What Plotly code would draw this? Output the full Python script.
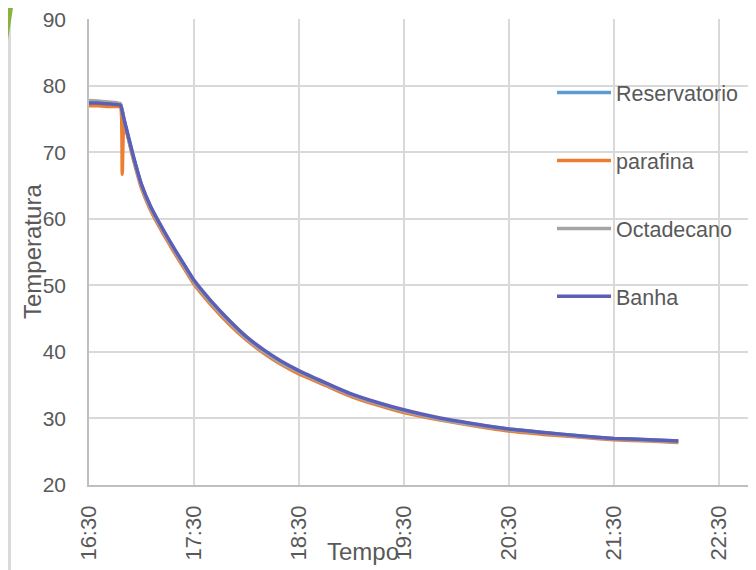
import plotly.graph_objects as go

# ---- data ----
times = ["16:30","16:35","16:40","16:45","16:48","16:50","16:55","17:00","17:05","17:10",
         "17:15","17:20","17:25","17:30","17:40","17:50","18:00","18:10","18:20","18:30",
         "18:45","19:00","19:15","19:30","19:50","20:10","20:30","20:50","21:10","21:30",
         "21:50","22:07"]
reservatorio = [77.5,77.5,77.4,77.3,77.2,75.0,69.7,65.1,61.9,59.4,57.1,54.9,52.8,50.7,47.5,44.7,
                42.2,40.2,38.5,37.1,35.3,33.6,32.3,31.2,30.0,29.1,28.4,27.9,27.4,27.0,26.8,26.6]
octadecano = [77.8,77.7,77.6,77.5,77.3,74.8,69.5,64.9,61.7,59.2,56.9,54.7,52.6,50.5,47.3,44.5,
              42.0,40.0,38.3,37.0,35.2,33.5,32.2,31.1,29.9,29.0,28.3,27.8,27.3,26.9,26.7,26.5]
banha = [77.4,77.4,77.3,77.2,77.1,75.0,69.8,65.2,62.0,59.5,57.2,55.0,52.9,50.8,47.6,44.8,
         42.3,40.3,38.6,37.2,35.4,33.7,32.4,31.3,30.1,29.2,28.4,27.9,27.4,27.0,26.8,26.6]
times_parafina = ["16:30","16:35","16:40","16:45","16:48","16:49","16:50","16:55","17:00","17:05",
                  "17:10","17:15","17:20","17:25","17:30","17:40","17:50","18:00","18:10","18:20",
                  "18:30","18:45","19:00","19:15","19:30","19:50","20:10","20:30","20:50","21:10",
                  "21:30","21:50","22:07"]
parafina = [77.0,77.0,76.9,76.9,76.8,66.7,74.5,69.3,64.6,61.4,58.9,56.6,54.4,52.3,50.2,47.0,
            44.2,41.8,39.8,38.1,36.7,35.0,33.3,32.0,30.9,29.8,28.9,28.1,27.6,27.2,26.8,26.6,26.4]
x_ticks = ["16:30","17:30","18:30","19:30","20:30","21:30","22:30"]
y_ticks = [20,30,40,50,60,70,80,90]

DAY = "2024-01-01 "
def dt(ts):
    return [DAY + t for t in ts]

# ---- layout geometry (reference window pixels); the page has an 8px body margin ----
OFF = 8
W, H = 756 - OFF, 570 - OFF
L, R, T, B = 89, 750, 19, 485          # plot area in window pixels
pw, ph = R - L, B - T
def px(x):
    return (x - L) / pw
def py(y):
    return (B - y) / ph

TXT = "#595959"
FONT = "Liberation Sans"

fig = go.Figure()
series = [
    ("Reservatorio", dt(times), reservatorio, "#5b9bd5"),
    ("parafina", dt(times_parafina), parafina, "#ed7d31"),
    ("Octadecano", dt(times), octadecano, "#a5a5a5"),
    ("Banha", dt(times), banha, "#5b5fb5"),
]
for name, xs, ys, col in series:
    fig.add_trace(go.Scatter(x=xs, y=ys, name=name, mode="lines", legendgroup=name,
                             line=dict(color=col, width=3.5, shape="spline", smoothing=0.4)))

fig.update_layout(
    width=W, height=H, autosize=False,
    margin=dict(l=L - OFF, r=(W + OFF) - R, t=T - OFF, b=(H + OFF) - B, pad=0,
                autoexpand=False),
    paper_bgcolor="#d9dadc", plot_bgcolor="white",
    font=dict(family=FONT, color=TXT, size=20),
    showlegend=True,
    legend=dict(x=px(552), y=py(72), xanchor="left", yanchor="top",
                bgcolor="rgba(0,0,0,0)", font=dict(size=21.5, color=TXT),
                tracegroupgap=37, itemwidth=54, traceorder="grouped"),
    xaxis=dict(type="date",
               range=[DAY + "16:30", DAY + "22:48"],
               tickvals=dt(x_ticks), ticktext=x_ticks,
               tickangle=-90, showgrid=True, gridcolor="#d9d9d9", gridwidth=1.5,
               showline=True, linecolor="#bfbfbf", linewidth=1.5,
               ticks="", ticklabelstandoff=10, zeroline=False,
               ticklabeloverflow="allow", automargin=False,
               tickfont=dict(size=22, color=TXT)),
    yaxis=dict(range=[20, 90.04], tickvals=y_ticks, showgrid=True, gridcolor="#d9d9d9",
               gridwidth=1.5, showline=True, linecolor="#bfbfbf", linewidth=1.5,
               ticks="", ticklabelstandoff=17, zeroline=False,
               ticklabeloverflow="allow", automargin=False,
               tickfont=dict(size=21, color=TXT)),
    shapes=[
        dict(type="rect", xref="paper", yref="paper", layer="below",
             x0=px(11), x1=px(770), y0=py(580), y1=py(5),
             fillcolor="white", line=dict(width=0)),
        dict(type="path", xref="paper", yref="paper", layer="above",
             path=f"M {px(-5)} {py(-5)} L {px(15)} {py(-5)} L {px(0)} {py(92)} L {px(-5)} {py(92)} Z",
             fillcolor="#8ab33b", line=dict(width=0)),
    ],
    annotations=[
        dict(text="Temperatura", xref="paper", yref="paper", x=px(32), y=py(252),
             showarrow=False, textangle=-90, font=dict(size=24, color=TXT),
             xanchor="center", yanchor="middle"),
        dict(text="Tempo", xref="paper", yref="paper", x=px(363), y=py(551),
             showarrow=False, font=dict(size=24, color=TXT),
             xanchor="center", yanchor="middle"),
    ],
)

fig.write_html("out.html")
